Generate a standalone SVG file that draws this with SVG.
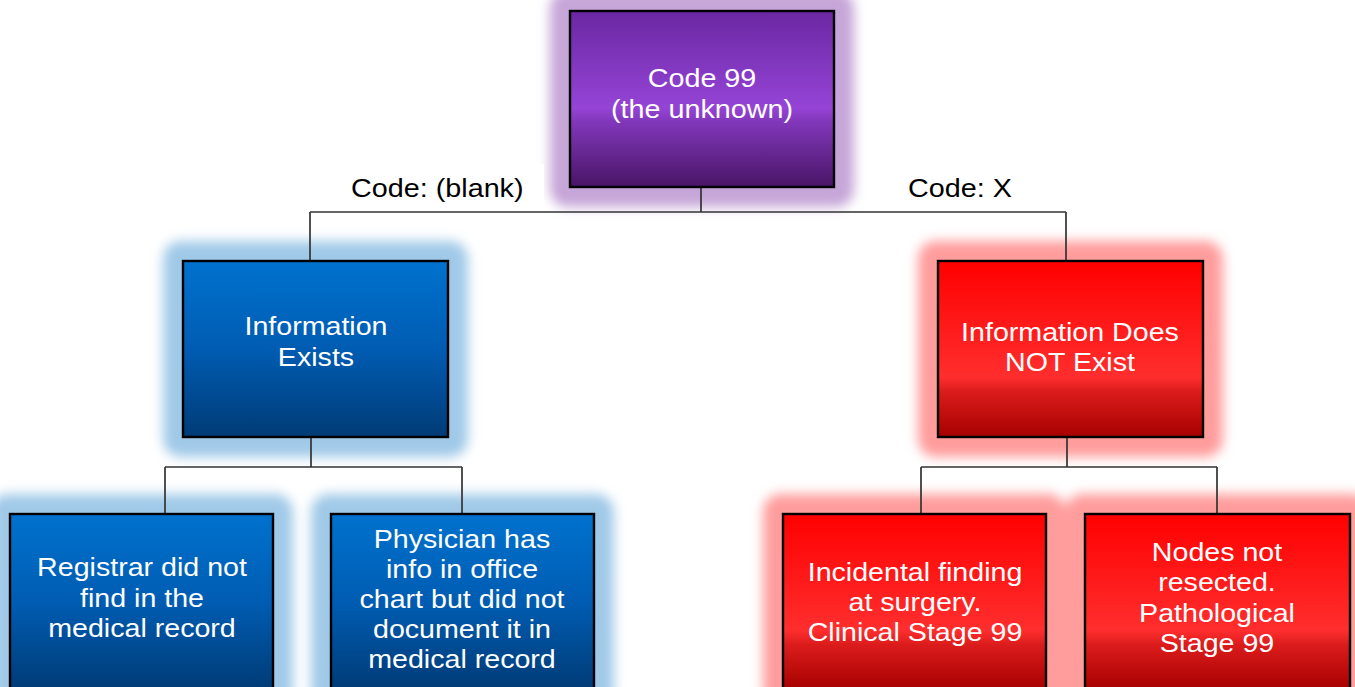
<svg xmlns="http://www.w3.org/2000/svg" width="1355" height="687" viewBox="0 0 1355 687">
<style>
.box{stroke:#000;stroke-width:2.4}
.t{font-family:"Liberation Sans",Arial,sans-serif;font-size:26px;fill:#fff;text-anchor:middle}
.t25{font-size:25px}
.lbl{font-family:"Liberation Sans",Arial,sans-serif;font-size:25px;fill:#000}
.conn{stroke:#333;stroke-width:1.7;fill:none}
</style>
<defs>
<filter id="blur" x="-30%" y="-30%" width="160%" height="160%"><feGaussianBlur stdDeviation="6"/></filter>
<linearGradient id="gP" x1="0" y1="0" x2="0" y2="1">
<stop offset="0" stop-color="#6a27a2"/><stop offset="0.55" stop-color="#9544d6"/><stop offset="0.62" stop-color="#8338bd"/><stop offset="1" stop-color="#481565"/>
</linearGradient>
<linearGradient id="gB" x1="0" y1="0" x2="0" y2="1">
<stop offset="0" stop-color="#0072ce"/><stop offset="0.5" stop-color="#005cb2"/><stop offset="1" stop-color="#003b76"/>
</linearGradient>
<linearGradient id="gB2" x1="0" y1="514" x2="0" y2="690" gradientUnits="userSpaceOnUse">
<stop offset="0" stop-color="#0072ce"/><stop offset="0.5" stop-color="#005cb2"/><stop offset="1" stop-color="#003b76"/>
</linearGradient>
<linearGradient id="gR" x1="0" y1="0" x2="0" y2="1">
<stop offset="0" stop-color="#ff0000"/><stop offset="0.66" stop-color="#ff2e2e"/><stop offset="0.74" stop-color="#dc1c1c"/><stop offset="1" stop-color="#a60000"/>
</linearGradient>
<linearGradient id="gR2" x1="0" y1="514" x2="0" y2="690" gradientUnits="userSpaceOnUse">
<stop offset="0" stop-color="#ff0000"/><stop offset="0.66" stop-color="#ff2e2e"/><stop offset="0.74" stop-color="#dc1c1c"/><stop offset="1" stop-color="#a60000"/>
</linearGradient>
</defs>
<rect width="1355" height="687" fill="#fff"/>

<g id="glows" filter="url(#blur)">
<rect x="550" y="-10" width="304" height="217" rx="18" fill="#c6a5d8"/>
<rect x="163" y="241" width="305" height="216" rx="18" fill="#a0c9e8"/>
<rect x="918" y="241" width="305" height="216" rx="18" fill="#ff9c9c"/>
<rect x="-10" y="494" width="303" height="214" rx="18" fill="#a0c9e8"/>
<rect x="311" y="494" width="303" height="214" rx="18" fill="#a0c9e8"/>
<rect x="763" y="494" width="303" height="214" rx="18" fill="#ff9c9c"/>
<rect x="1065" y="494" width="305" height="214" rx="18" fill="#ff9c9c"/>
</g>

<rect x="338" y="164" width="206" height="47" fill="#fff"/>

<g id="connectors">
<path class="conn" d="M701 187V212M310 212H1066M310 212V261M1066 212V261"/>
<path class="conn" d="M311 437V467M165 467H462M165 467V514M462 467V514"/>
<path class="conn" d="M1067 437V467M921 467H1217M921 467V514M1217 467V514"/>
<text class="lbl" transform="translate(351 0) scale(1.15 1)" x="0" y="197">Code: (blank)</text>
<text class="lbl" transform="translate(908 0) scale(1.15 1)" x="0" y="197">Code: X</text>
</g>

<g id="code99">
<rect class="box" x="570" y="11" width="264" height="176" fill="url(#gP)"/>
<text class="t t25" transform="translate(702 0) scale(1.15 1)"><tspan x="0" y="87">Code 99</tspan><tspan x="0" y="118">(the unknown)</tspan></text>
</g>

<g id="info-exists">
<rect class="box" x="183" y="261" width="265" height="176" fill="url(#gB)"/>
<text class="t" transform="translate(316 0) scale(1.1 1)"><tspan x="0" y="335">Information</tspan><tspan x="0" y="366">Exists</tspan></text>
</g>

<g id="info-not-exist">
<rect class="box" x="938" y="261" width="265" height="176" fill="url(#gR)"/>
<text class="t" transform="translate(1070 0) scale(1.1 1)"><tspan x="0" y="341">Information Does</tspan><tspan x="0" y="371">NOT Exist</tspan></text>
</g>

<g id="registrar">
<rect class="box" x="10" y="514" width="263" height="190" fill="url(#gB2)"/>
<text class="t" transform="translate(142 0) scale(1.1 1)"><tspan x="0" y="576">Registrar did not</tspan><tspan x="0" y="607">find in the</tspan><tspan x="0" y="637">medical record</tspan></text>
</g>

<g id="physician">
<rect class="box" x="331" y="514" width="263" height="190" fill="url(#gB2)"/>
<text class="t" transform="translate(462 0) scale(1.1 1)"><tspan x="0" y="548">Physician has</tspan><tspan x="0" y="578">info in office</tspan><tspan x="0" y="608">chart but did not</tspan><tspan x="0" y="638">document it in</tspan><tspan x="0" y="668">medical record</tspan></text>
</g>

<g id="incidental">
<rect class="box" x="783" y="514" width="263" height="190" fill="url(#gR2)"/>
<text class="t" transform="translate(915 0) scale(1.1 1)"><tspan x="0" y="581">Incidental finding</tspan><tspan x="0" y="611">at surgery.</tspan><tspan x="0" y="641">Clinical Stage 99</tspan></text>
</g>

<g id="nodes">
<rect class="box" x="1085" y="514" width="265" height="190" fill="url(#gR2)"/>
<text class="t" transform="translate(1217 0) scale(1.1 1)"><tspan x="0" y="561">Nodes not</tspan><tspan x="0" y="591">resected.</tspan><tspan x="0" y="622">Pathological</tspan><tspan x="0" y="652">Stage 99</tspan></text>
</g>
</svg>
